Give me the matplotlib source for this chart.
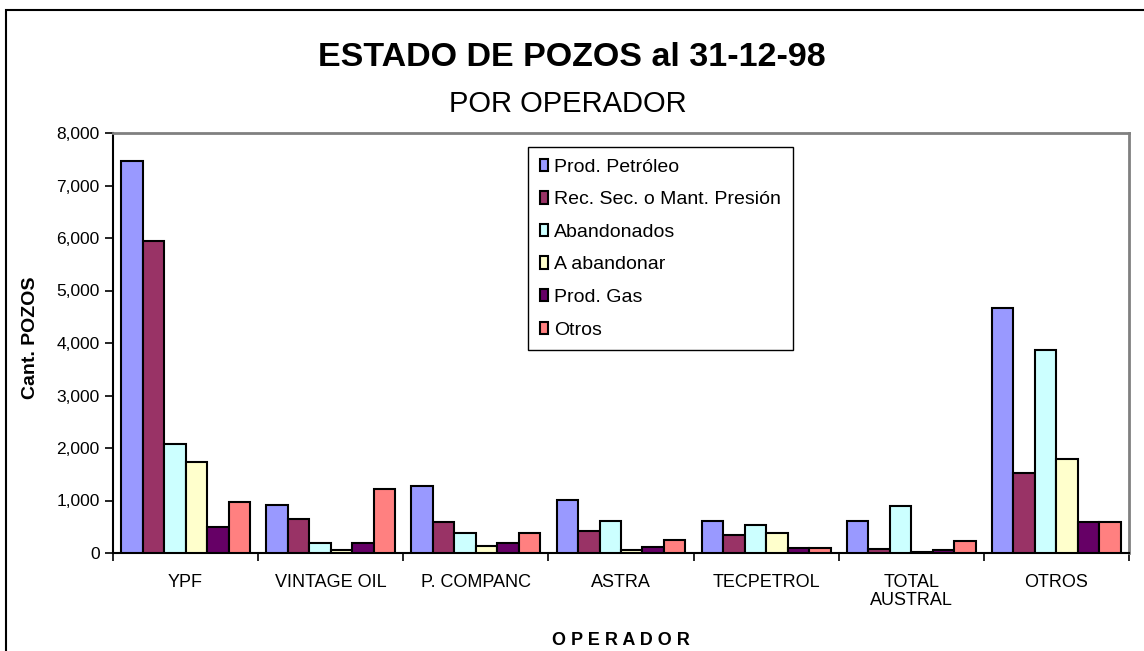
import numpy as np
import matplotlib.pyplot as plt
from matplotlib.patches import Rectangle
from matplotlib.ticker import FuncFormatter

plt.rcParams['font.family'] = ['Liberation Sans', 'DejaVu Sans']

operadores = ["YPF", "VINTAGE OIL", "P. COMPANC", "ASTRA", "TECPETROL", "TOTAL\nAUSTRAL", "OTROS"]
series = ["Prod. Petróleo", "Rec. Sec. o Mant. Presión", "Abandonados", "A abandonar", "Prod. Gas", "Otros"]

prod_petroleo = [7470, 920, 1285, 1015, 610, 610, 4660]
rec_sec = [5950, 655, 590, 415, 335, 75, 1515]
abandonados = [2075, 190, 385, 610, 530, 895, 3875]
a_abandonar = [1740, 65, 130, 50, 390, 20, 1800]
prod_gas = [490, 190, 190, 115, 90, 50, 585]
otros = [965, 1215, 390, 240, 90, 225, 585]

colores = ["#9999FF", "#993366", "#CCFFFF", "#FFFFCC", "#660066", "#FF8080"]

valores = [prod_petroleo, rec_sec, abandonados, a_abandonar, prod_gas, otros]

fig = plt.figure(figsize=(11.44, 6.51), dpi=100)
ax = fig.add_axes([113 / 1144, 1 - 553 / 651, (1129 - 113) / 1144, (553 - 133) / 651])

x = np.arange(len(operadores))
w = 0.148
for i, (nombre, vals) in enumerate(zip(series, valores)):
    ax.bar(x + (i - 2.5) * w, vals, w, color=colores[i], edgecolor="black",
           linewidth=1.5, label=nombre, zorder=3)

ax.set_xlim(-0.5, len(operadores) - 0.5)
ax.set_ylim(0, 8000)
ax.set_yticks(np.arange(0, 8001, 1000))
ax.yaxis.set_major_formatter(FuncFormatter(lambda v, p: f"{int(v):,}"))
ax.set_xticks(x)
ax.set_xticklabels(operadores, fontsize=13, linespacing=1.1)
ax.set_xticks(np.arange(-0.5, len(operadores), 1), minor=True)
ax.tick_params(axis="x", which="major", length=0, pad=15)
ax.tick_params(axis="x", which="minor", length=6, width=1.2, direction="out")
ax.tick_params(axis="y", length=6, width=1.2, direction="out", labelsize=12.5)

for s in ["top", "right"]:
    ax.spines[s].set_color("#808080")
    ax.spines[s].set_linewidth(2)
for s in ["left", "bottom"]:
    ax.spines[s].set_color("black")
    ax.spines[s].set_linewidth(1.5)

ax.set_ylabel("Cant. POZOS", fontsize=14, fontweight="bold")
ax.yaxis.set_label_coords(-74 / 1016, (553 - 338) / 420)
ax.set_xlabel("O P E R A D O R", fontsize=13, fontweight="bold")
ax.xaxis.set_label_coords(0.5, (553 - 632) / 420)

leg = ax.legend(loc="upper left", bbox_to_anchor=((528 - 113) / 1016, (553 - 147) / 420),
                fontsize=14, frameon=True, fancybox=False, framealpha=1,
                edgecolor="black", handlelength=0.45, handleheight=0.6,
                handletextpad=0.3, labelspacing=0.8, borderpad=0.6,
                borderaxespad=0)
leg.get_frame().set_linewidth(1)
for h in leg.legend_handles:
    h.set_linewidth(1.5)

fig.text(572 / 1144, 1 - 58 / 651, "ESTADO DE POZOS al 31-12-98", ha="center", va="center",
         fontsize=24.5, fontweight="bold")
fig.text(568 / 1144, 1 - 104 / 651, "POR OPERADOR", ha="center", va="center", fontsize=21)

fig.patches.append(Rectangle((6 / 1144, -0.05), (1150 - 6) / 1144, 1.05 - 10 / 651,
                             transform=fig.transFigure, fill=False, edgecolor="black",
                             linewidth=1.5))

fig.savefig("out.png", dpi=100)
